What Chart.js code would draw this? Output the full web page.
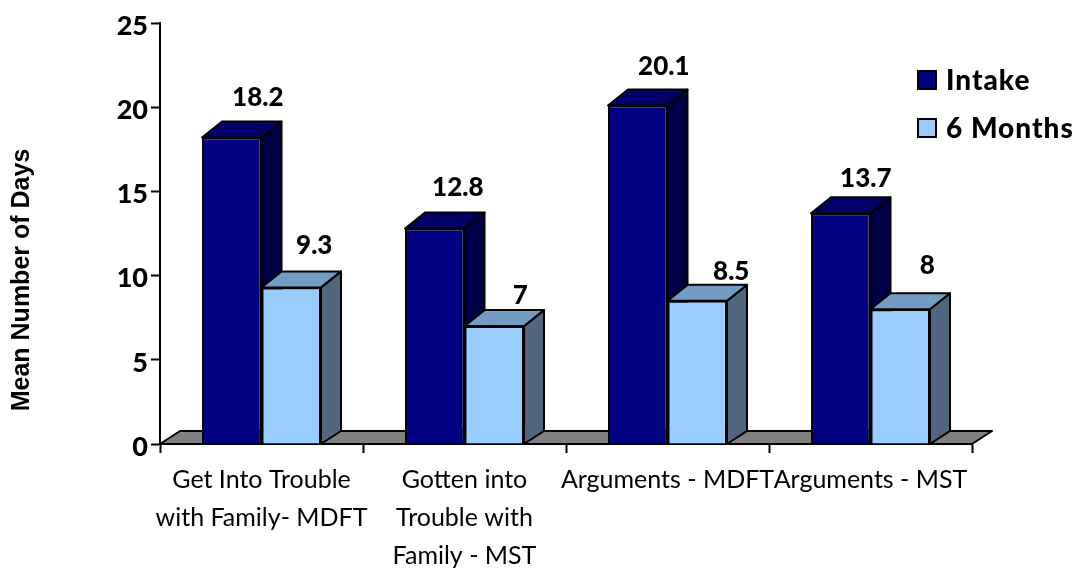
<!DOCTYPE html>
<html>
<head>
<meta charset="utf-8">
<title>Mean Number of Days</title>
<script src="https://cdn.jsdelivr.net/npm/chart.js@4/dist/chart.umd.min.js"></script>
<style>
  html, body { margin: 0; padding: 0; background: #fff; }
  canvas { display: block; }
</style>
</head>
<body>
<canvas id="chart" width="1079" height="570"></canvas>
<script>
const categories = [
    ['Get Into Trouble', 'with Family- MDFT'],
    ['Gotten into', 'Trouble with', 'Family - MST'],
    ['Arguments - MDFT'],
    ['Arguments - MST']
];
const intake = [18.2, 12.8, 20.1, 13.7];
const sixMonths = [9.3, 7, 8.5, 8];
const yTitle = 'Mean Number of Days';

// the value labels in the original were placed by hand, so each has its own nudge
const labelNudge = [
    [[26, -40], [23, -41], [26, -39], [25, -35]],
    [[23, -42], [26, -31], [34, -29], [27, -44]]
];

const colors = [
    { front: '#000080', top: '#000066', side: '#000048' },
    { front: '#99ccff', top: '#739cc4', side: '#52667f' }
];
const depth = { x: 20, y: 16, floor: 13 };

const polygon = (ctx, points, fill) => {
    ctx.beginPath();
    points.forEach(([x, y], i) => i ? ctx.lineTo(x, y) : ctx.moveTo(x, y));
    ctx.closePath();
    ctx.fillStyle = fill;
    ctx.fill();
    ctx.stroke();
};

const bars3d = {
    id: 'bars3d',
    beforeDatasetsDraw(chart) {
        const { ctx, chartArea } = chart;
        const base = chart.scales.y.getPixelForValue(0);
        ctx.save();
        ctx.strokeStyle = '#000';
        ctx.lineWidth = 2;
        ctx.lineJoin = 'round';
        polygon(ctx, [
            [chartArea.left, base],
            [chartArea.left + depth.x, base - depth.floor],
            [chartArea.right + depth.x, base - depth.floor],
            [chartArea.right, base]
        ], '#808080');
        chart.data.datasets.forEach((ds, d) => {
            chart.getDatasetMeta(d).data.forEach(bar => {
                const left = bar.x - bar.width / 2;
                const right = bar.x + bar.width / 2;
                polygon(ctx, [
                    [right, bar.y],
                    [right + depth.x, bar.y - depth.y],
                    [right + depth.x, base - depth.floor],
                    [right, base]
                ], colors[d].side);
                polygon(ctx, [
                    [left, bar.y],
                    [left + depth.x, bar.y - depth.y],
                    [right + depth.x, bar.y - depth.y],
                    [right, bar.y]
                ], colors[d].top);
            });
        });
        ctx.restore();
    },
    afterDraw(chart) {
        const { ctx } = chart;
        ctx.save();
        ctx.fillStyle = '#000';

        // value labels
        ctx.font = '900 26px Lato';
        ctx.textAlign = 'center';
        ctx.textBaseline = 'middle';
        chart.data.datasets.forEach((ds, d) => {
            chart.getDatasetMeta(d).data.forEach((bar, i) => {
                const [dx, dy] = labelNudge[d][i];
                ctx.fillText(String(ds.data[i]), bar.x + dx, bar.y + dy);
            });
        });

        // legend
        ctx.font = '900 28px Lato';
        ctx.letterSpacing = '1px';
        ctx.textAlign = 'left';
        chart.data.datasets.forEach((ds, d) => {
            const y = 81 + d * 48;
            ctx.fillStyle = ds.backgroundColor;
            ctx.fillRect(918, y - 10, 18, 18);
            ctx.strokeStyle = '#000';
            ctx.lineWidth = 2;
            ctx.strokeRect(918, y - 10, 18, 18);
            ctx.fillStyle = '#000';
            ctx.fillText(ds.label, 946, y);
        });
        ctx.letterSpacing = '0px';

        // y title sits below the axis centre in the original
        ctx.translate(22, 280);
        ctx.rotate(-Math.PI / 2);
        ctx.font = 'bold 25px "Liberation Sans"';
        ctx.textAlign = 'center';
        ctx.fillText(yTitle, 0, 0);
        ctx.restore();
    }
};

new Chart(document.getElementById('chart'), {
    type: 'bar',
    data: {
        labels: categories,
        datasets: [
            {
                label: 'Intake',
                data: intake,
                backgroundColor: colors[0].front,
                borderColor: '#000',
                borderWidth: 2,
                categoryPercentage: 0.586,
                barPercentage: 1
            },
            {
                label: '6 Months',
                data: sixMonths,
                backgroundColor: colors[1].front,
                borderColor: '#000',
                borderWidth: 2,
                categoryPercentage: 0.586,
                barPercentage: 1
            }
        ]
    },
    options: {
        responsive: false,
        animation: false,
        layout: { padding: { left: 0, top: 23, right: 107, bottom: 0 } },
        plugins: { legend: { display: false }, tooltip: { enabled: false } },
        scales: {
            x: {
                afterFit(scale) { scale.height = 126; },
                grid: {
                    offset: true,
                    drawOnChartArea: false,
                    color: '#000',
                    tickLength: 9,
                    tickWidth: 2
                },
                border: { color: '#000', width: 2 },
                ticks: {
                    autoSkip: false,
                    maxRotation: 0,
                    color: '#000',
                    padding: 8,
                    font: { family: 'Lato', size: 25, lineHeight: 1.52 }
                }
            },
            y: {
                min: 0,
                max: 25,
                afterFit(scale) { scale.width = 160; },
                grid: {
                    drawOnChartArea: false,
                    color: '#000',
                    tickLength: 9,
                    tickWidth: 2
                },
                border: { color: '#000', width: 2 },
                ticks: {
                    stepSize: 5,
                    color: '#000',
                    padding: 3,
                    labelOffset: 3,
                    font: { family: 'Lato', size: 27, weight: 900 }
                }
            }
        }
    },
    plugins: [bars3d]
});
</script>
</body>
</html>
